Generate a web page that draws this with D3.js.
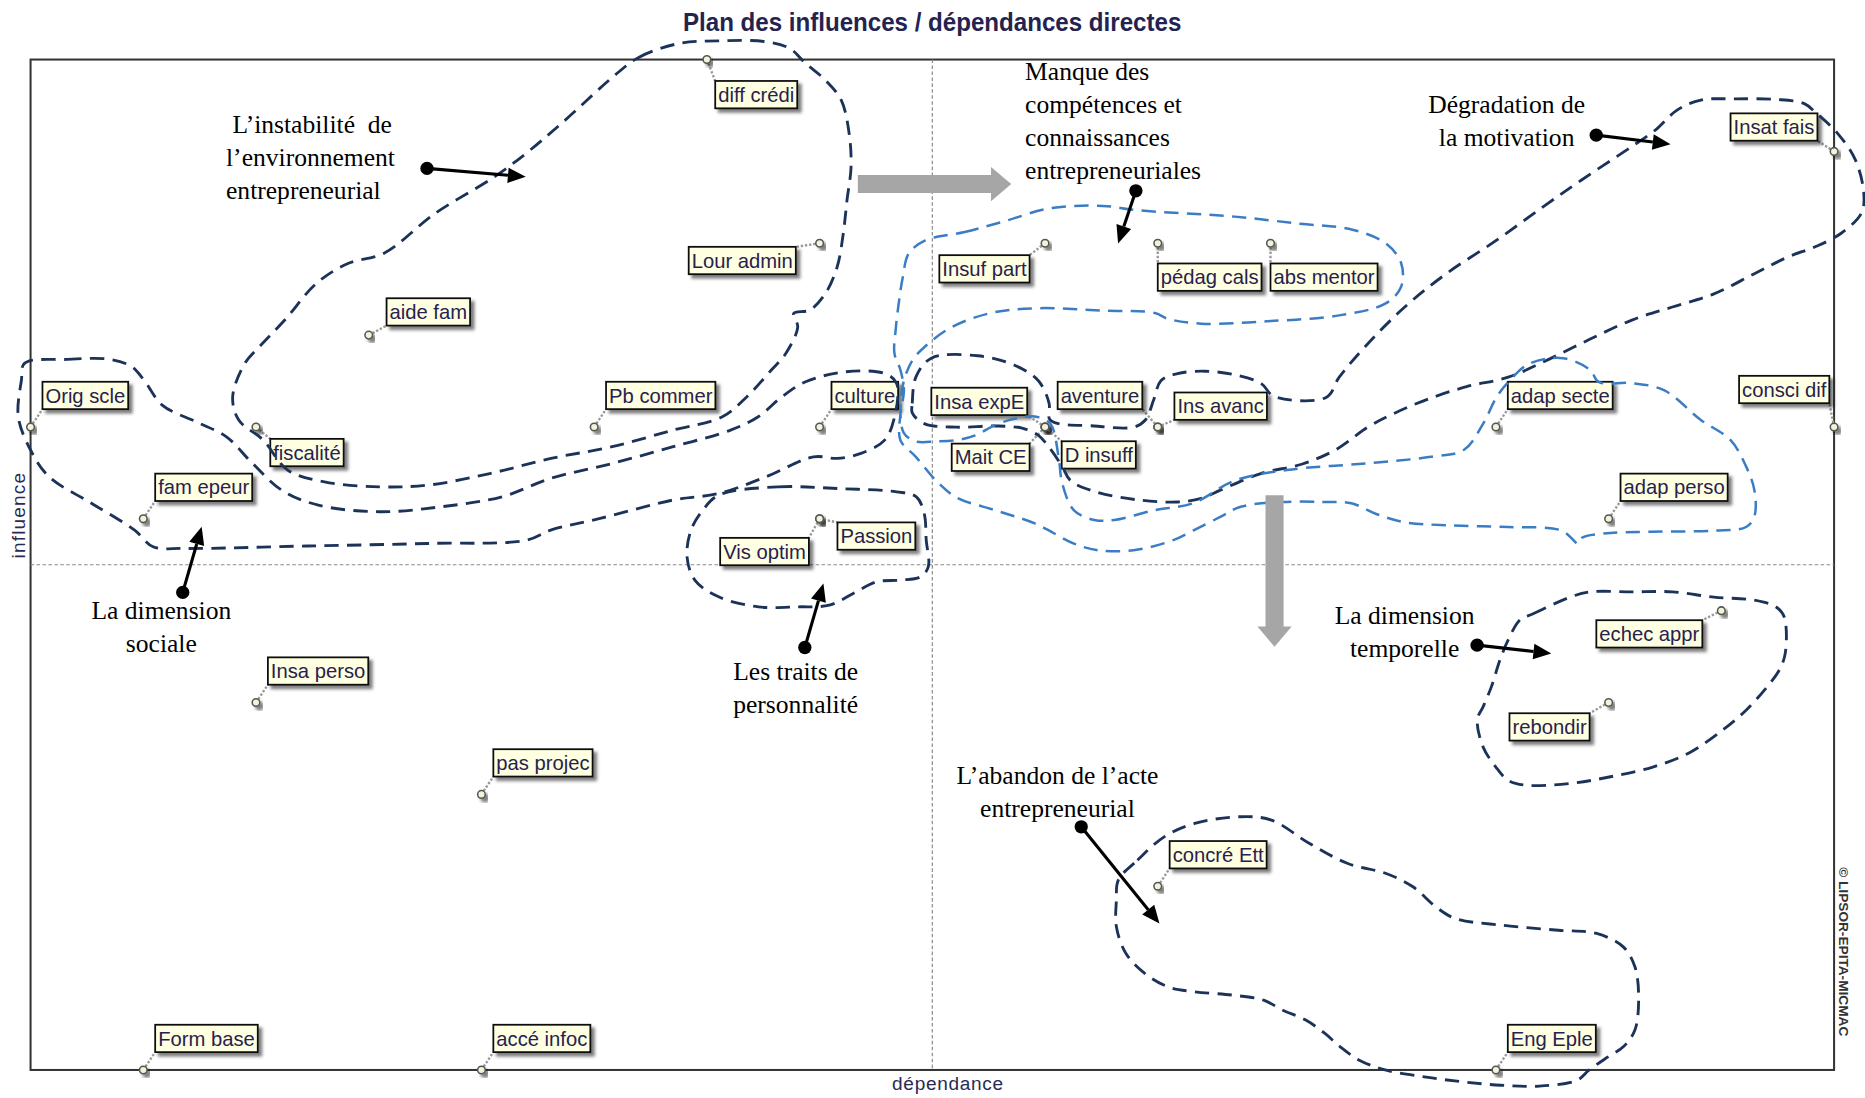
<!DOCTYPE html>
<html>
<head>
<meta charset="utf-8">
<script src="https://cdn.jsdelivr.net/npm/d3@7"></script>
<style>
body { margin: 0; background: #fff; }
svg { display: block; }
</style>
</head>
<body>
<svg id="chart"></svg>
<script>
// MICMAC plan : variables (dépendance, influence)
const variables = ["diff crédi", "Lour admin", "aide fam", "Orig scle", "fiscalité", "fam epeur",
  "Pb commer", "culture", "Vis optim", "Passion", "Insa expE", "Mait CE", "D insuff", "aventure",
  "Ins avanc", "Insuf part", "pédag cals", "abs mentor", "Insat fais", "consci dif", "adap secte",
  "adap perso", "echec appr", "rebondir", "Insa perso", "pas projec", "concré Ett", "Form base",
  "accé infoc", "Eng Eple"];
const dependance = [6, 7, 3, 0, 2, 1, 5, 7, 7, 7, 9, 9, 9, 10, 10, 9, 10, 11, 16, 16, 13, 14, 15, 14, 2, 4, 10, 1, 4, 13];
const influence = [11, 9, 8, 7, 7, 6, 7, 7, 6, 6, 7, 7, 7, 7, 7, 9, 9, 9, 10, 7, 7, 6, 5, 4, 4, 3, 2, 0, 0, 0];
const meanDependance = 8;
const meanInfluence = 5.5;

// hand drawn cluster outlines, in (dépendance, influence) units
const clusterInstabilite = [[5.201,10.848],[5.403,11.029],[5.753,11.175],[6.104,11.204],[6.524,11.194],[6.735,11.121],[6.876,10.958],[7.052,10.775],[7.192,10.558],[7.262,10.195],[7.279,9.831],[7.243,9.469],[7.210,9.106],[7.156,8.744],[7.052,8.454],[6.912,8.272],[6.770,8.236],[6.806,8.090],[6.700,7.800],[6.572,7.620],[6.355,7.329],[6.137,7.111],[5.701,6.966],[5.160,6.785],[4.617,6.658],[4.074,6.493],[3.531,6.368],[3.095,6.348],[2.607,6.403],[2.281,6.531],[2.064,6.857],[1.847,7.075],[1.793,7.329],[1.901,7.692],[2.044,7.892],[2.255,8.164],[2.536,8.563],[2.816,8.780],[3.132,8.889],[3.588,9.324],[4.114,9.723],[4.395,9.978],[4.709,10.304]];
const clusterSociale = [[-0.054,7.692],[0.326,7.736],[0.706,7.736],[0.897,7.656],[1.006,7.511],[1.168,7.238],[1.467,7.057],[1.738,6.893],[1.955,6.622],[2.228,6.312],[2.553,6.149],[3.095,6.077],[3.639,6.131],[4.182,6.240],[4.614,6.440],[5.160,6.603],[5.701,6.785],[6.210,6.966],[6.456,7.111],[6.666,7.329],[6.876,7.492],[7.226,7.600],[7.577,7.582],[7.683,7.474],[7.665,7.111],[7.577,6.857],[7.367,6.712],[7.156,6.658],[6.946,6.675],[6.524,6.457],[6.104,6.276],[5.701,6.205],[5.052,6.004],[4.614,5.877],[4.399,5.768],[3.528,5.732],[2.445,5.704],[1.358,5.678],[1.087,5.696],[0.923,5.877],[0.543,6.167],[0.164,6.458],[0,6.749],[-0.109,7.111],[-0.081,7.511]];
const clusterTraits = [[6.104,6.258],[6.630,6.348],[7.156,6.330],[7.683,6.294],[7.858,6.240],[7.928,6.058],[7.946,5.768],[7.964,5.477],[7.894,5.368],[7.718,5.333],[7.508,5.315],[7.298,5.188],[7.086,5.060],[6.806,5.042],[6.456,5.042],[6.104,5.151],[5.893,5.333],[5.824,5.587],[5.859,5.877],[5.964,6.095]];
const clusterMotivation = [[7.822,7.154],[7.822,7.257],[7.854,7.542],[7.991,7.749],[8.403,7.775],[8.730,7.672],[8.941,7.503],[9.036,7.257],[9.046,7.076],[9.437,7.011],[9.785,6.998],[9.890,7.076],[9.964,7.296],[10.028,7.503],[10.175,7.581],[10.418,7.607],[10.682,7.568],[10.914,7.477],[11.030,7.335],[11.494,7.322],[11.610,7.542],[11.843,7.879],[12.191,8.306],[12.560,8.669],[13.003,9.031],[13.415,9.394],[13.763,9.692],[14.206,10.054],[14.417,10.235],[14.607,10.449],[14.818,10.559],[15.114,10.572],[15.483,10.566],[15.736,10.520],[15.842,10.417],[16.031,10.197],[16.190,9.905],[16.264,9.541],[16.243,9.329],[16.063,9.109],[15.842,8.967],[15.588,8.850],[15.293,8.669],[14.934,8.449],[14.565,8.306],[14.206,8.164],[13.837,7.957],[13.468,7.736],[13.109,7.542],[12.739,7.439],[12.381,7.296],[12.085,7.141],[11.864,6.998],[11.579,6.752],[11.283,6.597],[10.914,6.493],[10.555,6.312],[10.386,6.222],[10.175,6.183],[9.806,6.209],[9.437,6.299],[9.226,6.416],[9.152,6.571],[9.036,6.778],[8.941,6.908],[8.804,6.985],[8.561,7.011],[8.213,6.998],[7.928,7.037]];
const clusterTemporelle = [[13.214,4.901],[13.330,4.966],[13.657,5.147],[13.837,5.205],[14.206,5.205],[14.565,5.205],[14.934,5.147],[15.293,5.114],[15.483,5.043],[15.557,4.933],[15.567,4.538],[15.515,4.357],[15.409,4.176],[15.219,3.917],[15.008,3.697],[14.713,3.451],[14.385,3.295],[14.016,3.192],[13.657,3.119],[13.256,3.101],[13.109,3.153],[12.998,3.300],[12.887,3.515],[12.835,3.813],[12.887,3.956],[12.961,4.176],[13.035,4.461],[13.109,4.681]];
const clusterAbandon = [[9.650,2.067],[9.820,2.284],[10.057,2.538],[10.328,2.684],[10.736,2.757],[11.008,2.720],[11.347,2.465],[11.686,2.248],[12.026,2.139],[12.264,1.994],[12.467,1.776],[12.637,1.650],[13.044,1.577],[13.554,1.521],[13.893,1.486],[14.130,1.340],[14.233,1.123],[14.266,0.796],[14.233,0.434],[14.130,0.252],[13.994,0.142],[13.825,-0.003],[13.723,-0.110],[13.384,-0.176],[13.044,-0.166],[12.705,-0.129],[12.365,-0.075],[12.026,-0.003],[11.788,0.106],[11.619,0.252],[11.483,0.397],[11.313,0.543],[11.109,0.651],[10.939,0.760],[10.668,0.814],[10.328,0.851],[10.091,0.905],[9.887,1.050],[9.718,1.268],[9.633,1.559],[9.633,1.849]];
const clusterCompetences = [[7.938,9.031],[8.287,9.122],[8.635,9.238],[9.046,9.381],[9.511,9.407],[9.806,9.361],[10.682,9.290],[11.262,9.212],[11.727,9.148],[12.022,8.999],[12.159,8.785],[12.159,8.526],[12.022,8.345],[11.610,8.215],[10.967,8.151],[10.386,8.125],[10.091,8.177],[9.975,8.241],[9.511,8.267],[8.930,8.293],[8.519,8.241],[8.170,8.086],[7.938,7.879],[7.822,7.723],[7.748,7.503],[7.717,7.218],[7.748,6.934],[7.854,6.843],[8.033,6.843],[8.213,6.856],[8.381,6.908],[8.561,7.024],[8.730,7.089],[8.909,7.115],[9.046,7.037],[9.120,6.675],[9.152,6.390],[9.257,6.092],[9.437,5.988],[9.616,5.988],[9.964,6.092],[10.313,6.170],[10.682,6.416],[11.146,6.532],[11.843,6.603],[12.423,6.675],[12.718,6.752],[12.887,7.037],[13.008,7.329],[13.125,7.510],[13.299,7.691],[13.594,7.749],[13.837,7.620],[13.911,7.490],[14.206,7.477],[14.491,7.400],[14.818,7.076],[15.082,6.856],[15.219,6.571],[15.293,6.312],[15.293,6.027],[15.219,5.911],[14.934,5.872],[14.385,5.859],[14.016,5.846],[13.763,5.794],[13.731,5.730],[13.584,5.872],[13.109,5.911],[12.560,5.930],[12.191,5.963],[11.938,6.053],[11.716,6.170],[11.463,6.183],[11.104,6.183],[10.735,6.131],[10.555,6.021],[10.313,5.872],[10.138,5.768],[9.785,5.658],[9.468,5.658],[9.257,5.730],[8.909,5.950],[8.561,6.092],[8.213,6.234],[8.033,6.416],[7.854,6.675],[7.717,6.856],[7.717,7.141],[7.748,7.400],[7.717,7.620],[7.664,7.801],[7.675,8.060],[7.706,8.384],[7.738,8.630],[7.791,8.889]];

// annotation texts, anchored in chart units
const notes = [
  {lines: [" L’instabilité  de", "l’environnement", "entrepreneurial"], at: [1.734, 10.197], anchor: "start"},
  {lines: ["Manque des", "compétences et", "connaissances", "entrepreneuriales"], at: [8.823, 10.775], anchor: "start"},
  {lines: ["Dégradation de", "la motivation"], at: [13.095, 10.413], anchor: "middle"},
  {lines: ["La dimension", "sociale"], at: [1.160, 4.905], anchor: "middle"},
  {lines: ["Les traits de", "personnalité"], at: [6.788, 4.244], anchor: "middle"},
  {lines: ["L’abandon de l’acte", "entrepreneurial"], at: [9.110, 3.109], anchor: "middle"},
  {lines: ["La dimension", "temporelle"], at: [12.190, 4.854], anchor: "middle"}
];
// dot -> arrow tip
const pointers = [[3.517,9.815,4.393,9.723],[9.806,9.571,9.648,8.998],[13.890,10.177,14.549,10.079],
  [1.350,5.199,1.518,5.913],[6.869,4.599,7.034,5.296],[9.321,2.647,10.015,1.594],[12.833,4.625,13.491,4.534]];
// grey block arrows: from -> tip
const shifts = [[7.339,9.645,8.700,9.645],[11.036,6.258,11.036,4.607]];

var W = 1568, H = 923;

const svg = d3.select("#chart")
  .attr("width", 1865)
  .attr("height", 1098)
  .attr("viewBox", "0 0 " + W + " " + H);

var x = d3.scaleLinear().domain([0, 16]).range([25.7, 1542]);
var y = d3.scaleLinear().domain([0, 11]).range([899.5, 50]);

var defs = svg.append("defs");
var sh = defs.append("filter").attr("id", "shadow")
  .attr("x", "-20%").attr("y", "-30%").attr("width", "150%").attr("height", "180%");
sh.append("feDropShadow").attr("dx", 3).attr("dy", 3).attr("stdDeviation", 1.4)
  .attr("flood-color", "#000").attr("flood-opacity", 0.5);

// title
svg.append("text")
  .attr("x", 783.7).attr("y", 26)
  .attr("text-anchor", "middle")
  .attr("font-family", "Liberation Sans, Arial, sans-serif")
  .attr("font-weight", "bold")
  .attr("font-size", 22)
  .attr("textLength", 419).attr("lengthAdjust", "spacingAndGlyphs")
  .attr("fill", "#24234f")
  .text("Plan des influences / dépendances directes");

// frame
svg.append("rect")
  .attr("x", x(0)).attr("y", y(11))
  .attr("width", x(16) - x(0)).attr("height", y(0) - y(11))
  .attr("fill", "none").attr("stroke", "#333").attr("stroke-width", 1.7);

// mean lines
svg.append("line")
  .attr("x1", x(meanDependance)).attr("x2", x(meanDependance))
  .attr("y1", y(11)).attr("y2", y(0))
  .attr("stroke", "#8a8a8a").attr("stroke-width", 1).attr("stroke-dasharray", "3,2");
svg.append("line")
  .attr("x1", x(0)).attr("x2", x(16))
  .attr("y1", y(meanInfluence)).attr("y2", y(meanInfluence))
  .attr("stroke", "#8a8a8a").attr("stroke-width", 1).attr("stroke-dasharray", "3,2");

// axis names
svg.append("text")
  .attr("x", 797).attr("y", 916)
  .attr("text-anchor", "middle")
  .attr("font-family", "Liberation Sans, Arial, sans-serif")
  .attr("font-size", 16).attr("letter-spacing", 0.6)
  .attr("fill", "#2a2a55")
  .text("dépendance");
svg.append("text")
  .attr("transform", "translate(21,433) rotate(-90)")
  .attr("text-anchor", "middle")
  .attr("font-family", "Liberation Sans, Arial, sans-serif")
  .attr("font-size", 16).attr("letter-spacing", 1)
  .attr("fill", "#2a2a55")
  .text("influence");
svg.append("text")
  .attr("transform", "translate(1546,729) rotate(90)")
  .attr("font-family", "Liberation Sans, Arial, sans-serif")
  .attr("font-weight", "bold")
  .attr("font-size", 11.5)
  .attr("fill", "#333")
  .text("© LIPSOR-EPITA-MICMAC");

// label placement: side of box anchored to the marker, dx, dy of box top
var place = {
  "diff crédi": ["l", 7, 18],
  "Lour admin": ["r", -20, 3],
  "aide fam": ["l", 15, -31],
  "fiscalité": ["l", 12, 10],
  "Vis optim": ["r", -9, 16],
  "Passion": ["l", 15, 3],
  "Insa expE": ["r", -15, -33],
  "Mait CE": ["r", -13, 14],
  "D insuff": ["l", 14, 12],
  "aventure": ["r", -13, -38],
  "Ins avanc": ["l", 14, -29],
  "Insuf part": ["r", -13, 10],
  "pédag cals": ["l", 0, 17],
  "abs mentor": ["l", 0, 17],
  "Insat fais": ["r", -14, -32],
  "consci dif": ["r", -4, -43],
  "echec appr": ["r", -16, 8],
  "rebondir": ["r", -16, 9]
};

var nodes = variables.map(function (name, i) {
  return {name: name, dep: dependance[i], inf: influence[i]};
});

var gLab = svg.append("g");
nodes.forEach(function (d) {
  var mx = x(d.dep), my = y(d.inf);
  var p = place[d.name] || ["l", 10, -38];
  var g = gLab.append("g");
  var t = g.append("text")
    .attr("font-family", "Liberation Sans, Arial, sans-serif")
    .attr("font-size", 17)
    .attr("fill", "#27214f")
    .text(d.name);
  var w = t.node().getComputedTextLength() + 5;
  var bx = p[0] == "l" ? mx + p[1] : mx + p[1] - w;
  var by = my + p[2];
  t.attr("x", bx + 2.5).attr("y", by + 17.5);
  var cx = (p[0] == "l") ? bx : bx + w;
  var cy = by > my ? by : by + 23;
  g.insert("line", "text")
    .attr("x1", mx).attr("y1", my).attr("x2", cx).attr("y2", cy)
    .attr("stroke", "#9a9a9a").attr("stroke-width", 2).attr("stroke-dasharray", "2,1.5");
  g.insert("circle", "text")
    .attr("cx", mx).attr("cy", my).attr("r", 3.2)
    .attr("fill", "#f3f3d8").attr("stroke", "#555").attr("stroke-width", 1.3)
    .attr("filter", "url(#shadow)");
  g.insert("rect", "text")
    .attr("x", bx).attr("y", by).attr("width", w).attr("height", 23)
    .attr("fill", "#ffffe1").attr("stroke", "#111").attr("stroke-width", 1.5)
    .attr("filter", "url(#shadow)");
});

// cluster outlines
var outline = d3.line()
  .x(function (d) { return x(d[0]); })
  .y(function (d) { return y(d[1]); })
  .curve(d3.curveCatmullRomClosed.alpha(0.5));

var navyClusters = [clusterInstabilite, clusterSociale, clusterTraits, clusterMotivation, clusterTemporelle, clusterAbandon];
svg.append("g").selectAll("path")
  .data(navyClusters)
  .enter().append("path")
  .attr("d", outline)
  .attr("fill", "none")
  .attr("stroke", "#1c3359")
  .attr("stroke-width", 2.4)
  .attr("stroke-dasharray", "12,7");

svg.append("path")
  .datum(clusterCompetences)
  .attr("d", outline)
  .attr("fill", "none")
  .attr("stroke", "#3b7dc4")
  .attr("stroke-width", 2.1)
  .attr("stroke-dasharray", "12,7");

// grey block arrows
shifts.forEach(function (s) {
  var x0 = x(s[0]), y0 = y(s[1]), x1 = x(s[2]), y1 = y(s[3]);
  var a = Math.atan2(y1 - y0, x1 - x0), c = Math.cos(a), n = Math.sin(a);
  var hl = 17, sw = 7.6, hw = 14.4;
  var hx = x1 - hl * c, hy = y1 - hl * n;
  var pts = [
    [x0 - sw * n, y0 + sw * c], [hx - sw * n, hy + sw * c], [hx - hw * n, hy + hw * c],
    [x1, y1],
    [hx + hw * n, hy - hw * c], [hx + sw * n, hy - sw * c], [x0 + sw * n, y0 - sw * c]
  ];
  svg.append("polygon")
    .attr("points", pts.map(function (q) { return q.join(","); }).join(" "))
    .attr("fill", "#a6a6a6");
});

// annotation texts
var gNotes = svg.append("g")
  .attr("font-family", "Liberation Serif, Times New Roman, serif")
  .attr("font-size", 21.5)
  .attr("fill", "#000");
notes.forEach(function (nt) {
  var t = gNotes.append("text")
    .attr("x", x(nt.at[0])).attr("y", y(nt.at[1]))
    .attr("text-anchor", nt.anchor)
    .style("white-space", "pre");
  nt.lines.forEach(function (l, i) {
    t.append("tspan")
      .attr("x", x(nt.at[0]))
      .attr("dy", i == 0 ? 0 : 27.6)
      .text(l);
  });
});

// black pointers
pointers.forEach(function (p) {
  var x0 = x(p[0]), y0 = y(p[1]), x1 = x(p[2]), y1 = y(p[3]);
  var a = Math.atan2(y1 - y0, x1 - x0), c = Math.cos(a), n = Math.sin(a);
  var L = 15, hw = 6.5;
  var bx = x1 - L * c, by = y1 - L * n;
  svg.append("line")
    .attr("x1", x0).attr("y1", y0).attr("x2", bx).attr("y2", by)
    .attr("stroke", "#000").attr("stroke-width", 2.6);
  svg.append("circle")
    .attr("cx", x0).attr("cy", y0).attr("r", 5.6).attr("fill", "#000");
  svg.append("path")
    .attr("d", "M" + x1 + "," + y1 + "L" + (bx - hw * n) + "," + (by + hw * c) + "L" + (bx + hw * n) + "," + (by - hw * c) + "Z")
    .attr("fill", "#000");
});
</script>
</body>
</html>
